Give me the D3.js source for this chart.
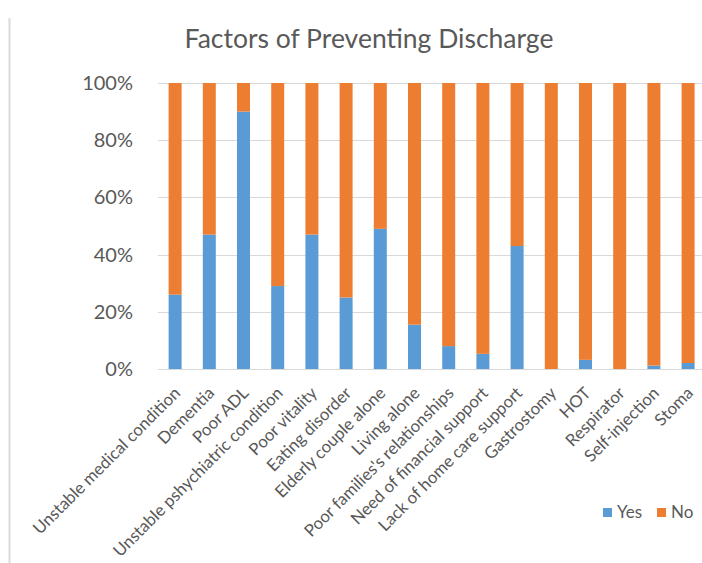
<!DOCTYPE html>
<meta charset="utf-8">
<style>
body { margin: 0; background: #fff; }
text { font-family: Lato, "Open Sans", sans-serif; fill: #595959; }
.grid line { stroke: #d9d9d9; stroke-width: 1px; }
.axis path, .axis line { display: none; }
</style>
<svg width="702" height="563"></svg>
<script src="https://d3js.org/d3.v7.min.js"></script>
<script>

var categories = ["Unstable medical condition", "Dementia", "Poor ADL", "Unstable pshychiatric condition",
  "Poor vitality", "Eating disorder", "Elderly couple alone", "Living alone",
  "Poor families's relationships", "Need of financial support", "Lack of home care support",
  "Gastrostomy", "HOT", "Respirator", "Self-injection", "Stoma"];
var yesPct = [26, 47, 90, 29, 47, 25, 49, 15.5, 8, 5.3, 43, 0, 3.2, 0, 1.2, 2.1];
var noPct = yesPct.map(function(v) { return 100 - v; });
var seriesNames = ["Yes", "No"];
var colors = ["#5b9bd5", "#ed7d31"];
var yTicks = [0, 0.2, 0.4, 0.6, 0.8, 1];

var svg = d3.select("svg"),
    margin = {top: 83, left: 158, bottom: 563 - 369},
    width = 16 * 34.2,
    height = 369 - 83,
    g = svg.append("g").attr("transform", "translate(" + margin.left + "," + margin.top + ")");

// chart border on the left
svg.append("line")
    .attr("x1", 9.5).attr("x2", 9.5)
    .attr("y1", 18).attr("y2", 563)
    .attr("stroke", "#d9d9d9").attr("stroke-width", 2);

svg.append("text")
    .attr("x", 369)
    .attr("y", 48)
    .attr("text-anchor", "middle")
    .style("font-size", "26.5px")
    .text("Factors of Preventing Discharge");

var rows = categories.map(function(c, i) {
  return {cat: c, Yes: yesPct[i] / 100, No: noPct[i] / 100};
});

var x = d3.scaleBand().domain(categories).range([0, width]).paddingInner(0.62).paddingOuter(0.31),
    y = d3.scaleLinear().domain([0, 1]).range([height, 0]);

g.append("g")
    .attr("class", "grid")
  .selectAll("line")
  .data(yTicks)
  .enter().append("line")
    .attr("x1", 0).attr("x2", width)
    .attr("y1", function(d) { return Math.round(y(d)) + 0.5; })
    .attr("y2", function(d) { return Math.round(y(d)) + 0.5; });

g.append("g")
    .attr("class", "axis axis--y")
    .call(d3.axisLeft(y).tickValues(yTicks).tickFormat(d3.format(".0%")).tickSize(0).tickPadding(25))
  .selectAll("text")
    .style("font-size", "20px");

var stack = d3.stack().keys(seriesNames)(rows);

g.selectAll(".series")
  .data(stack)
  .enter().append("g")
    .attr("class", "series")
    .attr("fill", function(d, i) { return colors[i]; })
  .selectAll("rect")
  .data(function(d) { return d; })
  .enter().append("rect")
    .attr("x", function(d) { return x(d.data.cat); })
    .attr("width", x.bandwidth())
    .attr("y", function(d) { return y(d[1]); })
    .attr("height", function(d) { return y(d[0]) - y(d[1]); });

g.append("g")
    .attr("class", "axis axis--x")
    .attr("transform", "translate(0," + height + ")")
    .call(d3.axisBottom(x).tickSize(0).tickPadding(0))
  .selectAll("text")
    .style("font-size", "16.8px")
    .attr("text-anchor", "end")
    .attr("dy", "0.35em")
    .attr("transform", "translate(2,21) rotate(-45)");

var legend = svg.append("g")
    .attr("transform", "translate(603,508)")
  .selectAll("g")
  .data(seriesNames)
  .enter().append("g")
    .attr("transform", function(d, i) { return "translate(" + (i * 54) + ",0)"; });

legend.append("rect")
    .attr("width", 9).attr("height", 9)
    .attr("fill", function(d, i) { return colors[i]; });

legend.append("text")
    .attr("x", 14)
    .attr("y", 4.5)
    .attr("dy", "0.35em")
    .style("font-size", "17px")
    .text(function(d) { return d; });

</script>
